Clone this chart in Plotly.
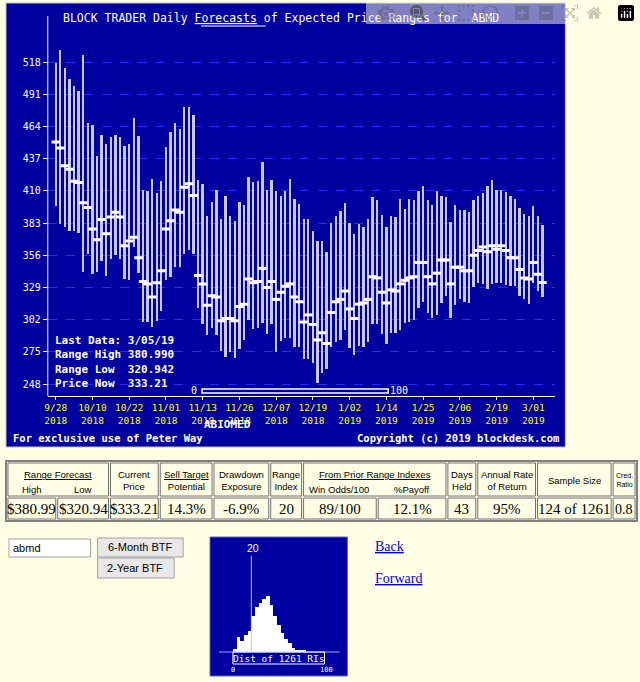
import plotly.graph_objects as go

W, H = 640, 682

# daily forecast ranges (9/28/2018 .. 3/05/2019, trading days)
highs = [517, 528, 513, 504, 498, 494, 524, 467, 465, 439, 457, 449, 455, 457, 455, 448, 449, 471, 456,
         411, 410, 420, 408, 418, 447, 459, 467, 462, 480, 480, 474, 419, 416, 389, 401, 411, 386, 406,
         389, 385, 401, 398, 422, 417, 418, 434, 411, 419, 410, 406, 410, 420, 403, 399, 386, 386, 376,
         368, 368, 359, 383, 389, 393, 400, 383, 374, 382, 380, 386, 405, 402, 390, 380, 389, 388, 403,
         395, 403, 402, 410, 414, 402, 398, 410, 406, 405, 384, 398, 394, 394, 392, 402, 406, 408, 414,
         419, 411, 411, 409, 406, 403, 396, 391, 389, 397, 389, 380.99]
prices = [451, 446, 431, 428, 418, 417, 400, 396, 378, 369, 386, 374, 388, 392, 388, 364, 368, 371, 354,
          334, 332, 321, 333, 343, 378, 385, 394, 392, 413, 416, 406, 339, 332, 314, 322, 321, 301, 303,
          303, 301, 313, 315, 336, 333, 334, 345, 329, 334, 319, 325, 330, 332, 321, 317, 300, 306, 298,
          285, 291, 282, 308, 317, 319, 326, 311, 303, 315, 316, 319, 338, 337, 325, 316, 327, 326, 332,
          335, 337, 338, 350, 350, 338, 332, 341, 352, 352, 332, 346, 346, 343, 343, 356, 360, 363, 359,
          364, 361, 364, 360, 354, 354, 344, 337, 336, 350, 340, 333.21]
lows = [397, 382, 380, 376, 376, 375, 342, 357, 340, 342, 351, 339, 353, 356, 353, 336, 335, 363, 341,
        300, 300, 296, 301, 309, 335, 338, 346, 346, 357, 360, 357, 312, 298, 289, 295, 289, 276, 271,
        275, 270, 277, 285, 302, 294, 295, 299, 290, 298, 275, 284, 287, 287, 279, 279, 269, 269, 266,
        249, 257, 261, 279, 283, 285, 293, 278, 272, 280, 279, 283, 298, 298, 290, 282, 291, 291, 293,
        299, 300, 302, 312, 317, 308, 303, 306, 316, 322, 303, 314, 319, 317, 316, 329, 333, 332, 328,
        332, 333, 333, 331, 330, 330, 322, 319, 315, 333, 326, 320.94]
date_ticks = [0, 8, 16, 24, 32, 40, 48, 56, 64, 72, 80, 88, 96, 104]
date_labels = ["9/28<br>2018", "10/10<br>2018", "10/22<br>2018", "11/01<br>2018", "11/13<br>2018",
               "11/26<br>2018", "12/07<br>2018", "12/19<br>2018", "1/02<br>2019", "1/14<br>2019",
               "1/25<br>2019", "2/06<br>2019", "2/19<br>2019", "3/01<br>2019"]
price_ticks = [248, 275, 302, 329, 356, 383, 410, 437, 464, 491, 518]

# range index distribution (bins of 4)
ri_bins = [2, 6, 10, 14, 18, 22, 26, 30, 34, 38, 42, 46, 50, 54, 58, 62, 66, 70, 74, 78]
ri_counts = [3, 14, 10, 16, 20, 34, 42, 46, 50, 52, 44, 34, 25, 18, 12, 8, 4, 2, 1, 1]

table_head = ["Current<br>Price", "<u>Sell Target</u><br>Potential", "Drawdown<br>Exposure",
              "Range<br>Index"]
table_vals = ["$380.99", "$320.94", "$333.21", "14.3%", "-6.9%", "20", "89/100", "12.1%", "43",
              "95%", "124 of 1261", "0.8"]

NAVY = "#0000a0"
MONO = "DejaVu Sans Mono"


def px(x):
    return x / W


def py(y):
    return 1 - y / H


idx = list(range(len(prices)))
fig = go.Figure()
fig.add_trace(go.Bar(x=idx, y=[h - l for h, l in zip(highs, lows)], base=lows, width=0.4,
                     marker=dict(color="#c8c8f0", line_width=0), hoverinfo="skip"))
fig.add_trace(go.Scatter(x=idx, y=prices, mode="markers",
                         marker=dict(symbol="line-ew", size=6, line=dict(color="white", width=3))))
fig.add_trace(go.Bar(x=ri_bins, y=ri_counts, width=4, xaxis="x2", yaxis="y2",
                     marker=dict(color="white", line_width=0)))

shapes = [
    dict(type="rect", xref="paper", yref="paper", x0=px(3), x1=px(565), y0=py(447), y1=py(3),
         fillcolor=NAVY, line=dict(color="#c0c0c0", width=1), layer="below"),
    dict(type="line", xref="paper", yref="paper", x0=px(45), x1=px(45), y0=py(396), y1=py(16),
         line=dict(color="white", width=1)),
    dict(type="rect", xref="paper", yref="paper", x0=px(200), x1=px(387), y0=py(393), y1=py(389),
         fillcolor=NAVY, line=dict(color="white", width=1.5)),
    dict(type="line", xref="paper", yref="paper", x0=px(199), x1=px(264), y0=py(26), y1=py(26),
         line=dict(color="white", width=1)),
    # histogram panel
    dict(type="rect", xref="paper", yref="paper", x0=px(208), x1=px(346), y0=py(676), y1=py(537),
         fillcolor=NAVY, line=dict(color="#6060c0", width=1), layer="below"),
    dict(type="line", xref="paper", yref="paper", x0=px(217), x1=px(338), y0=py(652), y1=py(652),
         line=dict(color="#a0a0ff", width=1)),
    dict(type="line", xref="paper", yref="paper", x0=px(249.5), x1=px(249.5), y0=py(652), y1=py(556),
         line=dict(color="#c0c0ff", width=1)),
    dict(type="rect", xref="paper", yref="paper", x0=px(231), x1=px(323), y0=py(664), y1=py(652),
         line=dict(color="white", width=1)),
    # input + buttons
    dict(type="rect", xref="paper", yref="paper", x0=px(6), x1=px(88), y0=py(557), y1=py(539),
         fillcolor="white", line=dict(color="#a0a0a0", width=1)),
    dict(type="rect", xref="paper", yref="paper", x0=px(95), x1=px(181), y0=py(557), y1=py(538),
         fillcolor="#e8e8e8", line=dict(color="#a0a0a0", width=1)),
    dict(type="rect", xref="paper", yref="paper", x0=px(95), x1=px(172), y0=py(578), y1=py(558),
         fillcolor="#e8e8e8", line=dict(color="#a0a0a0", width=1)),
    dict(type="rect", xref="paper", yref="paper", x0=px(3), x1=px(637), y0=py(521), y1=py(461),
         line=dict(color="#808080", width=2)),
]

ann = []


def text(x, y, s, size=11, color="white", font=MONO, xa="left", **kw):
    ann.append(dict(x=px(x), y=py(y), xref="paper", yref="paper", text=s, showarrow=False,
                    xanchor=xa, yanchor="middle", font=dict(size=size, color=color, family=font), **kw))


text(58, 18, "BLOCK TRADER Daily <u>Forecasts</u> of Expected Price Ranges for  ABMD", size=11.5)
text(50, 362, "<b>Last Data: 3/05/19<br>Range High 380.990<br>Range Low  320.942<br>Price Now  333.21</b>",
     size=11, align="left")
text(200, 424, "<b>ABIOMED</b>", size=11)
text(8, 438, "<b>For exclusive use of Peter Way</b>", size=10.5)
text(561, 438, "<b>Copyright (c) 2019 blockdesk.com</b>", size=10.5, xa="right")
text(197, 390, "0", size=10, xa="right", color="white")
text(387, 390, "100", size=10)

# table
SANS = "Liberation Sans"
SERIF = "Liberation Serif"
cols = [4, 54, 107, 157, 211, 268, 301, 376, 446, 476, 536, 612, 636]
for a, b in zip(cols[:-1], cols[1:]):
    shapes.append(dict(type="rect", xref="paper", yref="paper", x0=px(a + 1), x1=px(b - 1),
                       y0=py(519), y1=py(498), line=dict(color="#707070", width=1)))
head_cols = [4, 107, 157, 211, 268, 301, 446, 476, 536, 612, 636]
for a, b in zip(head_cols[:-1], head_cols[1:]):
    shapes.append(dict(type="rect", xref="paper", yref="paper", x0=px(a + 1), x1=px(b - 1),
                       y0=py(496), y1=py(463), line=dict(color="#707070", width=1)))
for i, v in enumerate(table_vals):
    text((cols[i] + cols[i + 1]) / 2, 509, v, size=15 if i < 11 else 14, color="black", font=SERIF,
         xa="center")
text(55, 474, "<u>Range Forecast</u>", 9.5, "black", SANS, "center")
text(29, 489, "High", 9.5, "black", SANS, "center")
text(80, 489, "Low", 9.5, "black", SANS, "center")
for i, s in enumerate(table_head):
    text((head_cols[i + 1] + head_cols[i + 2]) / 2, 480, s, 9.5, "black", SANS, "center")
text(374, 474, "<u>From Prior Range Indexes</u>", 9.5, "black", SANS, "center")
text(338, 489, "Win Odds/100", 9.5, "black", SANS, "center")
text(411, 489, "%Payoff", 9.5, "black", SANS, "center")
text(461, 480, "Days<br>Held", 9.5, "black", SANS, "center")
text(506, 480, "Annual Rate<br>of Return", 9.5, "black", SANS, "center")
text(574, 480, "Sample Size", 9.5, "black", SANS, "center")
text(624, 480, "Cred.<br>Ratio", 7, "black", SANS, "center")

text(8, 548, "abmd", 11, "black", SANS)
text(138, 547, "6-Month BTF", 11, "black", SANS, "center")
text(133, 568, "2-Year BTF", 11, "black", SANS, "center")
text(251, 548, "20", 10.5, "white", SANS, "center")
text(277, 658, "Dist of 1261 RIs", 9.5, "white", MONO, "center")
text(231, 670, "0", 7, "white", MONO, "center")
text(325, 670, "100", 7, "white", MONO, "center")
text(372, 546, "<u>Back</u>", 14, "#0000ee", SERIF)
text(372, 578, "<u>Forward</u>", 14, "#0000ee", SERIF)

fig.update_layout(
    width=W, height=H, margin=dict(l=0, r=0, t=0, b=0), showlegend=False,
    paper_bgcolor="#ffffe6", plot_bgcolor="rgba(0,0,0,0)", bargap=0,
    shapes=shapes, annotations=ann,
    xaxis=dict(domain=[px(45), px(555)], range=[-1.73, 108.8], tickvals=date_ticks, ticktext=date_labels,
               tickfont=dict(color="#ffff00", family=MONO, size=9.5), ticks="outside", tickcolor="white",
               ticklen=3, showgrid=False, zeroline=False, showline=True, linecolor="white",
               anchor="y"),
    yaxis=dict(domain=[py(396), py(18)], range=[238, 554.9], tickvals=price_ticks,
               tickfont=dict(color="white", family=MONO, size=10), ticks="outside", tickcolor="white",
               ticklen=4, showgrid=True, gridcolor="#2828ff", griddash="dash", zeroline=False,
               showline=False),
    xaxis2=dict(domain=[px(231), px(323)], range=[0, 100], visible=False, anchor="y2"),
    yaxis2=dict(domain=[py(652), py(545)], range=[0, 100], visible=False, anchor="x2"),
)

fig.write_html("out.html", post_script="document.body.style.margin='0';document.body.style.overflow='hidden';")
